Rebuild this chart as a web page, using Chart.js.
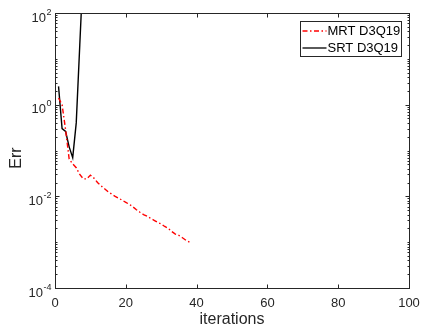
<!DOCTYPE html>
<html>
<head>
<meta charset="utf-8">
<script src="https://cdn.jsdelivr.net/npm/chart.js@4.4.1/dist/chart.umd.min.js"></script>
<style>
  html, body { margin: 0; padding: 0; background: #fff; }
  #wrap { width: 423px; height: 327px; }
</style>
</head>
<body>
<div id="wrap"><canvas id="c" width="423" height="327"></canvas></div>
<script>
// Convergence history of the residual for the two collision models
const mrtIter = [1, 2, 3, 4, 5, 6, 7, 8, 9, 10, 11, 12, 13, 14, 15, 16, 17, 18, 19, 20,
                 21, 22, 23, 24, 25, 26, 27, 28, 29, 30, 31, 32, 33, 34, 35, 36, 37, 38];
const mrtErr = [1.4, 1.0, 0.28, 0.065, 0.051, 0.042, 0.030, 0.024, 0.024, 0.029,
                0.025, 0.020, 0.017, 0.0147, 0.0126, 0.0112, 0.0100, 0.0091, 0.0082, 0.0074,
                0.0067, 0.0059, 0.0051, 0.0045, 0.0040, 0.0037, 0.0033, 0.0030, 0.0027, 0.0025,
                0.0022, 0.0020, 0.0017, 0.0015, 0.0014, 0.00125, 0.0011, 0.0010];

const srtIter = [1, 2, 3, 4, 5, 6, 7, 8];
const srtErr = [2.5, 0.3, 0.26, 0.12, 0.07, 0.4, 20, 1000];

const xTicks = [0, 20, 40, 60, 80, 100];
const yTickExp = [-4, -2, 0, 2];

const seriesNames = ['MRT D3Q19', 'SRT D3Q19'];
const axisTitles = { x: 'iterations', y: 'Err' };

const toXY = (xs, ys) => xs.map((x, i) => ({ x: x, y: ys[i] }));

const FONT = '"Liberation Sans", Arial, Helvetica, sans-serif';
const AXIS_COLOR = '#262626';

// MATLAB-style box axes, inward ticks, superscript log labels and legend
const matlabAxes = {
  id: 'matlabAxes',
  afterDatasetsDraw(chart) {
    const ctx = chart.ctx;
    const a = chart.chartArea;
    const xs = chart.scales.x, ys = chart.scales.y;
    ctx.save();
    ctx.strokeStyle = AXIS_COLOR;
    ctx.lineWidth = 1;
    const L = Math.round(a.left) + 0.5, R = Math.round(a.right) + 0.5;
    const T = Math.round(a.top) + 0.5, B = Math.round(a.bottom) + 0.5;
    ctx.strokeRect(L, T, R - L, B - T);

    // x ticks on bottom and top
    ctx.beginPath();
    xTicks.forEach(v => {
      const px = Math.round(xs.getPixelForValue(v)) + 0.5;
      ctx.moveTo(px, B); ctx.lineTo(px, B - 4);
      ctx.moveTo(px, T); ctx.lineTo(px, T + 4);
    });
    // y ticks: every decade, with minor ticks 2..9
    for (let e = -4; e <= 2; e++) {
      const py = Math.round(ys.getPixelForValue(Math.pow(10, e))) + 0.5;
      const len = yTickExp.includes(e) ? 4 : 2;
      ctx.moveTo(L, py); ctx.lineTo(L + len, py);
      ctx.moveTo(R, py); ctx.lineTo(R - len, py);
      if (e < 2) {
        for (let m = 2; m <= 9; m++) {
          const pm = Math.round(ys.getPixelForValue(m * Math.pow(10, e))) + 0.5;
          ctx.moveTo(L, pm); ctx.lineTo(L + 2, pm);
          ctx.moveTo(R, pm); ctx.lineTo(R - 2, pm);
        }
      }
    }
    ctx.stroke();

    // x tick labels
    ctx.fillStyle = AXIS_COLOR;
    ctx.font = '13px ' + FONT;
    ctx.textAlign = 'center';
    ctx.textBaseline = 'alphabetic';
    xTicks.forEach(v => {
      ctx.fillText(String(v), xs.getPixelForValue(v), B + 18);
    });

    // y tick labels as 10 with superscript exponent
    yTickExp.forEach(e => {
      const py = ys.getPixelForValue(Math.pow(10, e));
      const sup = String(e);
      ctx.font = '9px ' + FONT;
      const wSup = ctx.measureText(sup).width;
      const right = L - 4;
      ctx.textAlign = 'left';
      ctx.textBaseline = 'alphabetic';
      ctx.fillText(sup, right - wSup, py + 1.5);
      ctx.font = '13px ' + FONT;
      ctx.textAlign = 'right';
      ctx.fillText('10', right - wSup - 0.5, py + 8.5);
    });

    // axis titles
    ctx.font = '16px ' + FONT;
    ctx.textAlign = 'center';
    ctx.textBaseline = 'alphabetic';
    ctx.fillText(axisTitles.x, (a.left + a.right) / 2, 324);
    ctx.save();
    ctx.translate(21, 158);
    ctx.rotate(-Math.PI / 2);
    ctx.fillText(axisTitles.y, 0, 0);
    ctx.restore();

    // legend box
    const lx = 300.5, ly = 21.5, lw = 101, lh = 35;
    ctx.fillStyle = '#fff';
    ctx.fillRect(lx, ly, lw, lh);
    ctx.strokeStyle = AXIS_COLOR;
    ctx.lineWidth = 1;
    ctx.strokeRect(lx, ly, lw, lh);
    const ds = chart.data.datasets;
    const rows = [ly + 9.5, ly + 26.5];
    ds.forEach((d, i) => {
      ctx.save();
      ctx.strokeStyle = d.borderColor;
      ctx.lineWidth = 1.3;
      ctx.setLineDash(d.borderDash || []);
      ctx.beginPath();
      ctx.moveTo(lx + 2, rows[i]);
      ctx.lineTo(lx + 26, rows[i]);
      ctx.stroke();
      ctx.restore();
      ctx.fillStyle = '#000';
      ctx.font = '13px ' + FONT;
      ctx.textAlign = 'left';
      ctx.textBaseline = 'middle';
      ctx.fillText(d.label, lx + 27, rows[i] + 0.5);
    });
    ctx.restore();
  }
};

new Chart(document.getElementById('c'), {
  type: 'line',
  data: {
    datasets: [
      {
        label: seriesNames[0],
        data: toXY(mrtIter, mrtErr),
        borderColor: '#ff0000',
        borderWidth: 1.4,
        borderDash: [5, 2.5, 1.5, 2.5],
        pointRadius: 0,
        tension: 0,
        fill: false
      },
      {
        label: seriesNames[1],
        data: toXY(srtIter, srtErr),
        borderColor: '#000000',
        borderWidth: 1.4,
        pointRadius: 0,
        tension: 0,
        fill: false
      }
    ]
  },
  options: {
    responsive: false,
    animation: false,
    devicePixelRatio: 1,
    layout: { padding: { left: 55, right: 14, top: 13, bottom: 39 } },
    scales: {
      x: { type: 'linear', min: 0, max: 100, display: false },
      y: { type: 'logarithmic', min: 1e-4, max: 1e2, display: false }
    },
    plugins: {
      legend: { display: false },
      tooltip: { enabled: false }
    }
  },
  plugins: [matlabAxes]
});
</script>
</body>
</html>
